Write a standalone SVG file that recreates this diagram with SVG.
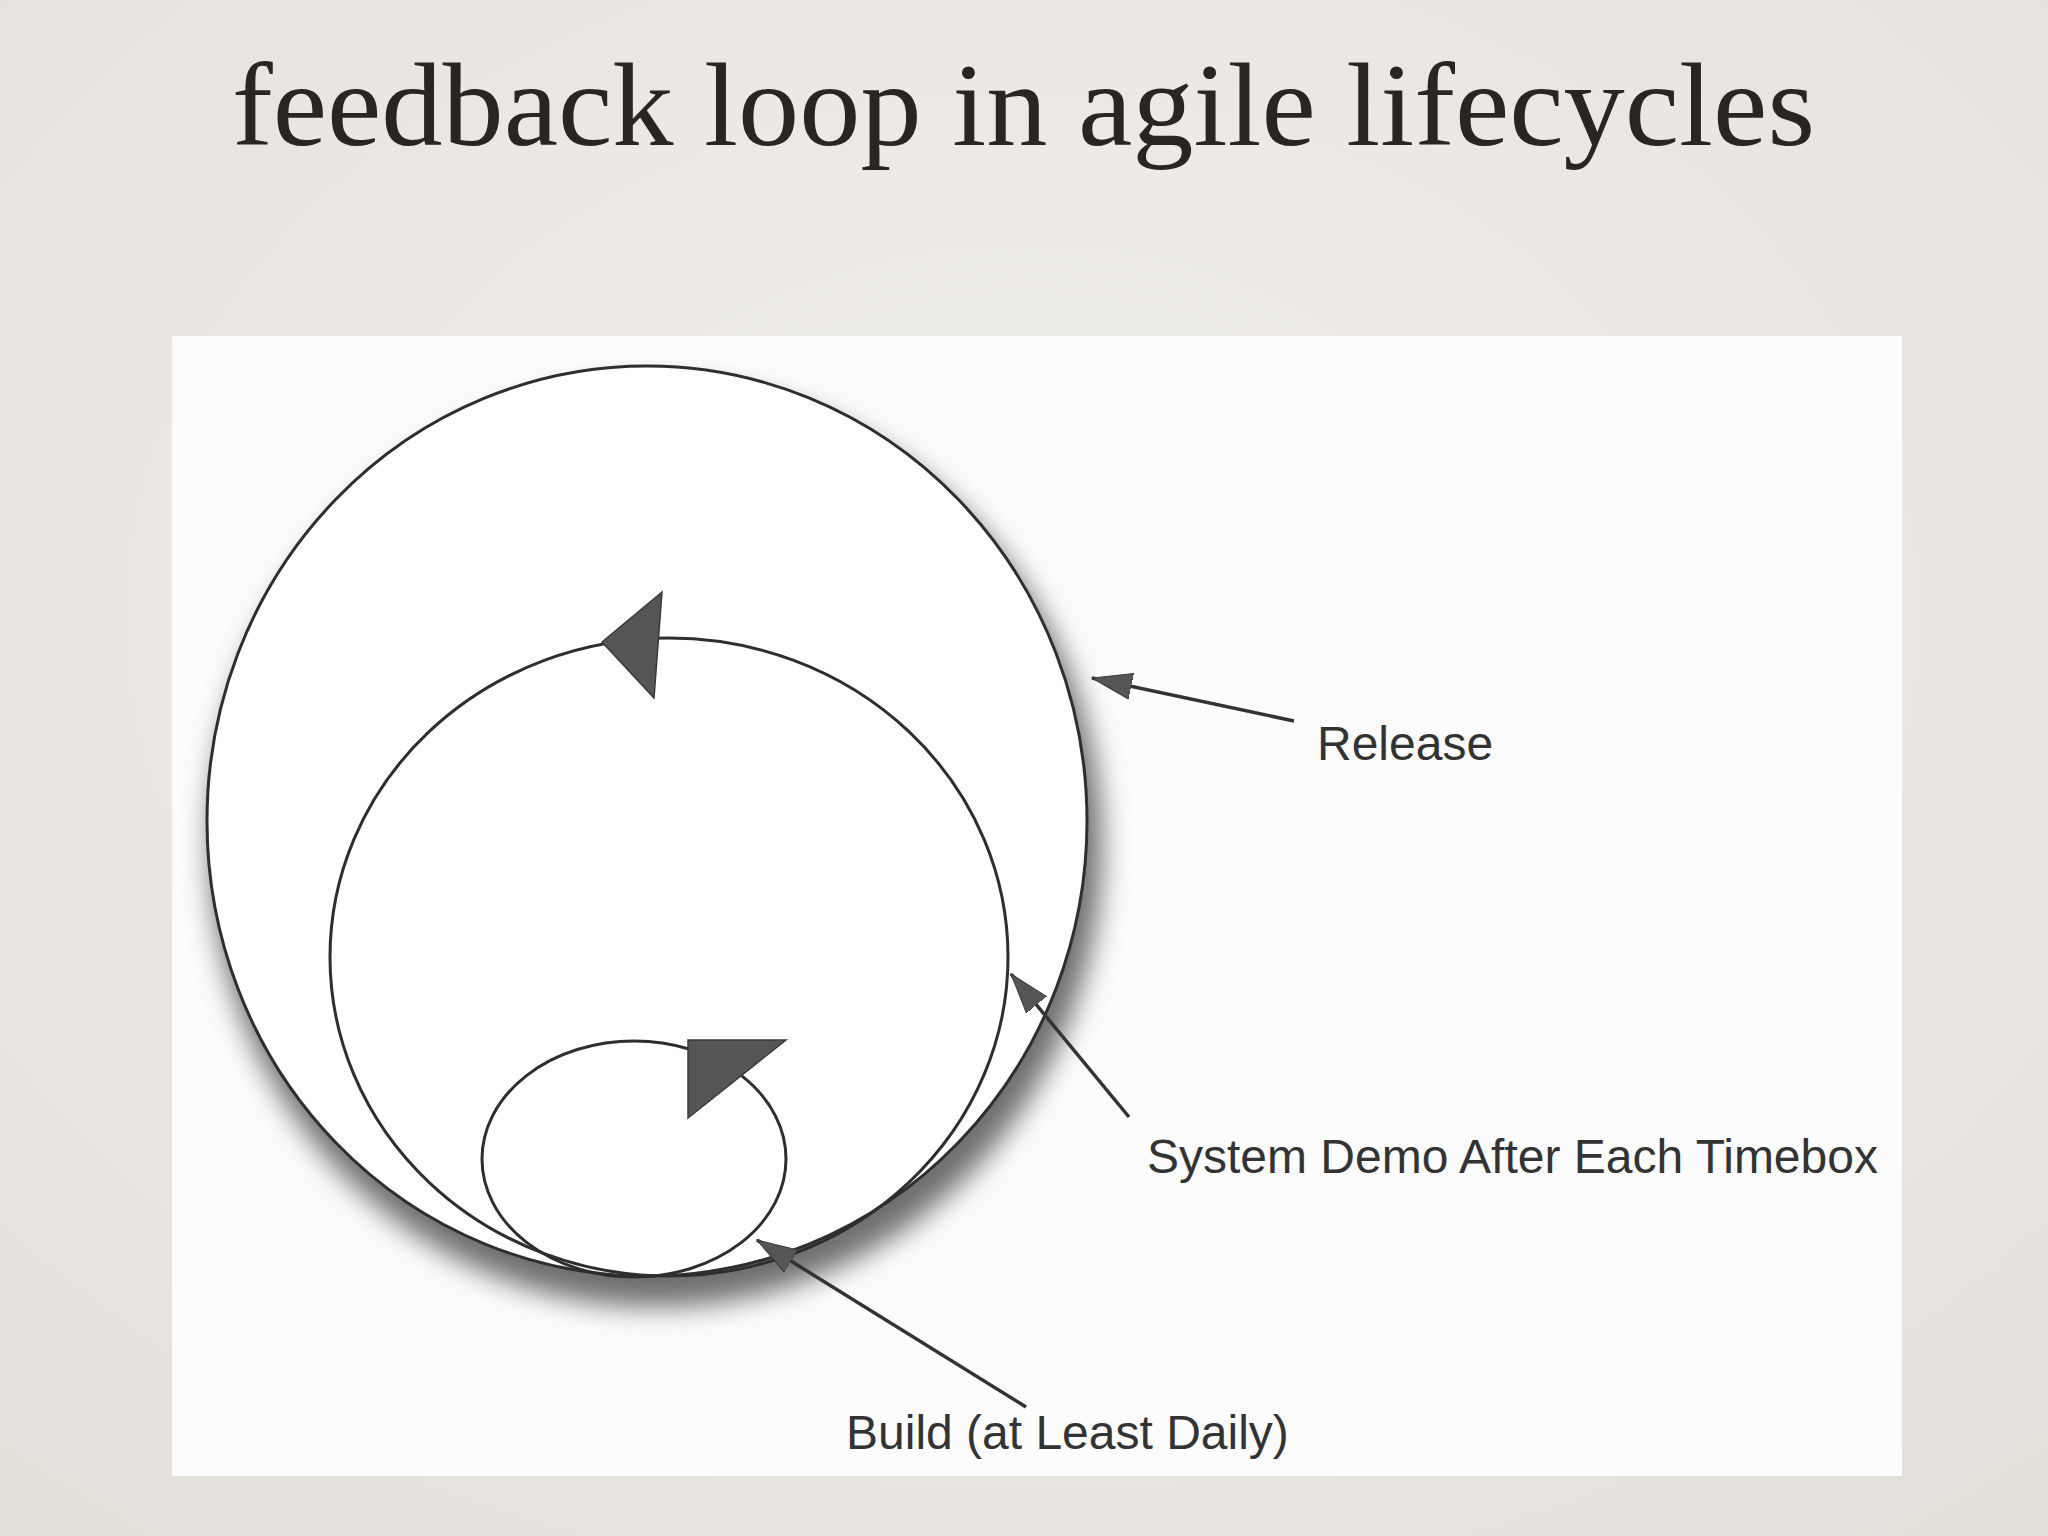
<svg xmlns="http://www.w3.org/2000/svg" width="2048" height="1536" viewBox="0 0 2048 1536">
  <style>
    .title { font-family: "Liberation Serif", "DejaVu Serif", serif; font-size: 118px; fill: #2a2522; }
    .label { font-family: "Liberation Sans", Arial, sans-serif; font-size: 48px; fill: #333333; }
    .loop { fill: none; stroke: #2e2e2e; stroke-width: 3; }
    .outer { fill: #ffffff; stroke: #2e2e2e; stroke-width: 3; }
    .head { fill: #555555; stroke: #3a3a3a; stroke-width: 1.5; stroke-linejoin: miter; }
    .conn { fill: none; stroke: #333333; stroke-width: 3.5; }
  </style>
  <defs>
    <radialGradient id="bg" cx="50%" cy="40%" r="75%">
      <stop offset="0" stop-color="#f3f1ed"/>
      <stop offset="1" stop-color="#e3e0da"/>
    </radialGradient>
    <filter id="blur" x="-20%" y="-20%" width="140%" height="140%">
      <feGaussianBlur stdDeviation="14"/>
    </filter>
    <marker id="arrow" markerUnits="userSpaceOnUse" markerWidth="44" markerHeight="30" refX="40" refY="14" orient="auto">
      <path d="M0,1 L40,14 L0,27 Z" fill="#555555" stroke="#3a3a3a" stroke-width="1"/>
    </marker>
  </defs>

  <rect x="0" y="0" width="2048" height="1536" fill="url(#bg)"/>
  <text class="title" x="232" y="145" textLength="1583" lengthAdjust="spacingAndGlyphs">feedback loop in agile lifecycles</text>

  <rect x="172" y="336" width="1730" height="1140" fill="#fcfcfc"/>

  <g id="release-loop">
    <ellipse cx="656" cy="846" rx="446" ry="461" fill="#6e6e6e" filter="url(#blur)"/>
    <ellipse cx="647" cy="821" rx="440" ry="455" class="outer"/>
  </g>

  <g id="demo-loop">
    <ellipse cx="669" cy="957" rx="339" ry="319" class="loop"/>
    <polygon class="head" points="662,592 602,642 654,698"/>
  </g>

  <g id="build-loop">
    <ellipse cx="634" cy="1159" rx="152" ry="118" class="loop"/>
    <polygon class="head" points="688,1040 786,1040 688,1118"/>
  </g>

  <g id="connectors">
    <line class="conn" x1="1294" y1="721" x2="1092" y2="678" marker-end="url(#arrow)"/>
    <line class="conn" x1="1129" y1="1117" x2="1011" y2="974" marker-end="url(#arrow)"/>
    <line class="conn" x1="1026" y1="1407" x2="757" y2="1240" marker-end="url(#arrow)"/>
  </g>

  <g id="label-release">
    <text class="label" x="1317" y="760">Release</text>
  </g>
  <g id="label-demo">
    <text class="label" x="1147" y="1173">System Demo After Each Timebox</text>
  </g>
  <g id="label-build">
    <text class="label" x="846" y="1449">Build (at Least Daily)</text>
  </g>
</svg>
